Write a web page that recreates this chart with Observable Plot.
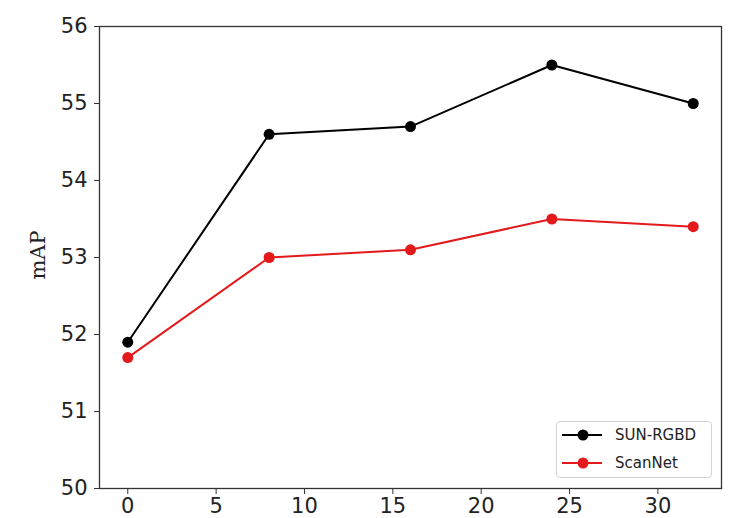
<!DOCTYPE html>
<html>
<head>
<meta charset="utf-8">
<script src="https://cdn.jsdelivr.net/npm/d3@7"></script>
<script src="https://cdn.jsdelivr.net/npm/@observablehq/plot@0.6"></script>
<style>
  html, body { margin: 0; padding: 0; background: #fff; }
  #wrap { position: relative; width: 744px; height: 518px; overflow: hidden; font-family: "DejaVu Sans", sans-serif; }
  #legend { position: absolute; left: 556px; top: 421px; width: 156px; height: 57px; border: 1px solid #d4d4d4; border-radius: 4px; background: rgba(255,255,255,0.85); box-sizing: border-box; }
  .item { position: absolute; left: 5px; height: 20px; display: flex; align-items: center; font-size: 15px; color: #222; }
  .item svg { margin-right: 13px; }
  #ylab { position: absolute; left: 38px; top: 255px; transform: translate(-50%, -50%) rotate(-90deg); font-family: "DejaVu Serif", "Liberation Serif", serif; font-size: 21px; color: #222; }
</style>
</head>
<body>
<div id="wrap"></div>
<script>
const epochs = [0, 8, 16, 24, 32];
const seriesNames = ["SUN-RGBD", "ScanNet"];
const sunRgbd = [51.9, 54.6, 54.7, 55.5, 55.0];
const scanNet = [51.7, 53.0, 53.1, 53.5, 53.4];
const colors = ["#000000", "#e31a1c"];
const xTicks = [0, 5, 10, 15, 20, 25, 30];
const yTicks = [50, 51, 52, 53, 54, 55, 56];

const data = [];
epochs.forEach((e, i) => {
  data.push({x: e, y: sunRgbd[i], s: seriesNames[0]});
  data.push({x: e, y: scanNet[i], s: seriesNames[1]});
});

const chart = Plot.plot({
  width: 744,
  height: 518,
  marginLeft: 99,
  marginRight: 23,
  marginTop: 26,
  marginBottom: 30,
  style: {fontFamily: "DejaVu Sans, sans-serif", fontSize: "21px", color: "#222", background: "#fff"},
  x: {domain: [-1.6, 33.6]},
  y: {domain: [50, 56]},
  color: {domain: seriesNames, range: colors},
  marks: [
    Plot.axisX({ticks: xTicks, tickFormat: "d", tickSize: 6, tickPadding: 4, fontSize: 21, label: null, stroke: "#333"}),
    Plot.axisY({ticks: yTicks, tickFormat: "d", tickSize: 5, tickPadding: 7, fontSize: 21, label: null, stroke: "#333"}),
    Plot.line(data, {x: "x", y: "y", z: "s", stroke: "s", strokeWidth: 2}),
    Plot.dot(data, {x: "x", y: "y", fill: "s", r: 5.5}),
    Plot.frame({stroke: "#333", strokeWidth: 1.3})
  ]
});

const wrap = document.getElementById("wrap");
wrap.appendChild(chart);

const ylab = document.createElement("div");
ylab.id = "ylab";
ylab.textContent = "mAP";
wrap.appendChild(ylab);

const legend = document.createElement("div");
legend.id = "legend";
seriesNames.forEach((name, i) => {
  const item = document.createElement("div");
  item.className = "item";
  item.style.top = (3 + i * 28) + "px";
  item.innerHTML = `<svg width="40" height="14"><line x1="0" y1="7" x2="40" y2="7" stroke="${colors[i]}" stroke-width="2"/><circle cx="21" cy="7" r="5.5" fill="${colors[i]}"/></svg><span>${name}</span>`;
  legend.appendChild(item);
});
wrap.appendChild(legend);
</script>
</body>
</html>
